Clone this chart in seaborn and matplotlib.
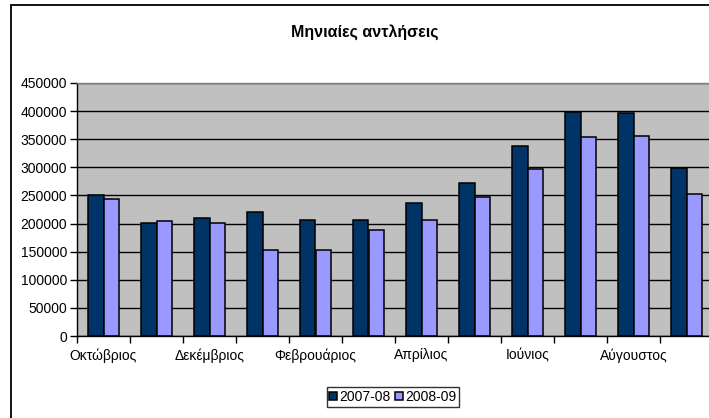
import matplotlib
matplotlib.use("Agg")
import matplotlib.pyplot as plt
from matplotlib.patches import Rectangle
import pandas as pd
import seaborn as sns

months = ["Οκτώβριος", "Νοέμβριος", "Δεκέμβριος", "Ιανουάριος",
          "Φεβρουάριος", "Μάρτιος", "Απρίλιος", "Μάιος",
          "Ιούνιος", "Ιούλιος", "Αύγουστος", "Σεπτέμβριος"]
seasons = ["2007-08", "2008-09"]
values_2007_08 = [250000, 201000, 210000, 220000, 206000, 206000,
                  237000, 273000, 338000, 398000, 396000, 298000]
values_2008_09 = [244000, 205000, 201000, 153000, 153000, 188000,
                  206000, 248000, 297000, 354000, 356000, 252000]
y_ticks = [0, 50000, 100000, 150000, 200000, 250000, 300000, 350000, 400000, 450000]
title = "Μηνιαίες αντλήσεις"

df = pd.DataFrame({
    "month": months * 2,
    "value": values_2007_08 + values_2008_09,
    "season": [seasons[0]] * len(months) + [seasons[1]] * len(months),
})

plt.rcParams["font.family"] = ["Liberation Sans", "DejaVu Sans"]

W, H = 709, 418
fig = plt.figure(figsize=(W / 100, H / 100), dpi=100)
fig.patch.set_facecolor("white")

left, right, top, bottom = 77, 713, 83, 336
ax = fig.add_axes([left / W, 1 - bottom / H, (right - left) / W, (bottom - top) / H])

sns.barplot(data=df, x="month", y="value", hue="season", order=months,
            hue_order=seasons, palette=["#003366", "#9999FF"],
            width=0.585, edgecolor="black", linewidth=1.1, saturation=1,
            ax=ax, legend=True)

ax.set_facecolor("#C0C0C0")
ax.set_xlim(-0.5, len(months) - 0.5)
ax.set_ylim(0, 450000)
ax.set_yticks(y_ticks)
ax.set_yticklabels([str(v) for v in y_ticks], fontsize=10)
ax.set_xlabel("")
ax.set_ylabel("")

# tick marks sit on category boundaries; every other month gets a label
ax.set_xticks([i - 0.5 for i in range(len(months) + 1)])
ax.set_xticklabels([])
ax.set_xticks(list(range(0, len(months), 2)), minor=True)
ax.set_xticklabels(months[::2], minor=True, fontsize=10)
ax.tick_params(axis="x", which="major", direction="out", length=5, width=1, color="black")
ax.tick_params(axis="x", which="minor", length=0, pad=9)
ax.tick_params(axis="y", direction="out", length=5, width=1, color="black", pad=2)

ax.set_axisbelow(True)
ax.yaxis.grid(True, color="black", linewidth=1)
ax.xaxis.grid(False)
for side in ("left", "bottom"):
    ax.spines[side].set_color("black")
    ax.spines[side].set_linewidth(1)
ax.spines["top"].set_color("#808080")
ax.spines["top"].set_linewidth(1)
ax.spines["right"].set_visible(False)

leg = ax.legend(loc="center", bbox_to_anchor=(393 / W, 1 - 397 / H),
                bbox_transform=fig.transFigure, ncol=2, frameon=True,
                fancybox=False, edgecolor="black", fontsize=10,
                handlelength=0.55, handleheight=0.55, handletextpad=0.2,
                columnspacing=0.3, borderpad=0.2, borderaxespad=0)
leg.get_frame().set_linewidth(1)
for h in leg.legend_handles:
    h.set_edgecolor("black")

fig.text(365 / W, 1 - 32 / H, title, ha="center", va="center",
         fontsize=11.5, fontweight="bold")

fig.add_artist(Rectangle((11 / W, -0.1), 1.0, 1 - 5 / H + 0.1, fill=False,
                         edgecolor="black", linewidth=1.3,
                         transform=fig.transFigure))

fig.savefig("out.png", dpi=100, facecolor="white")
